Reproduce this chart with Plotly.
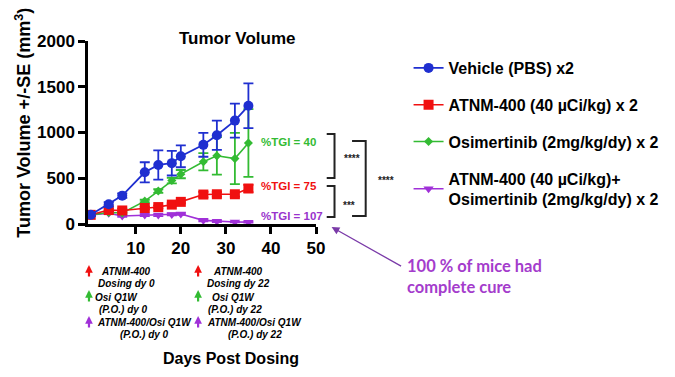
import plotly.graph_objects as go

# ---------------- data ----------------
days = [0, 4, 7, 12, 15, 18, 20, 25, 28, 32, 35]

vehicle = [100, 215, 310, 565, 645, 665, 740, 865, 970, 1130, 1292]
vehicle_se = [15, 25, 25, 110, 160, 135, 120, 130, 160, 185, 245]

atnm = [100, 152, 148, 175, 185, 212, 242, 322, 325, 325, 388]
atnm_se = [10, 15, 20, 15, 15, 15, 15, 30, 25, 25, 40]

osi = [100, 125, 120, 250, 360, 475, 545, 680, 745, 715, 885]
osi_se = [10, 10, 10, 15, 20, 30, 45, 95, 205, 280, 370]

combo = [100, 118, 88, 97, 97, 105, 110, 40, 30, 22, 20]
combo_se = [10, 10, 10, 10, 10, 10, 10, 10, 8, 5, 5]

series_names = [
    "Vehicle (PBS) x2",
    "ATNM-400 (40 µCi/kg) x 2",
    "Osimertinib (2mg/kg/dy) x 2",
    "ATNM-400 (40 µCi/kg)+<br>Osimertinib (2mg/kg/dy) x 2",
]
x_ticks = [10, 20, 30, 40, 50]
y_ticks = [0, 500, 1000, 1500, 2000]

tgi_labels = ["%TGI = 40", "%TGI = 75", "%TGI = 107"]
sig_labels = ["****", "***", "****"]

BLUE = "#1f2fd0"
RED = "#f01010"
GREEN = "#33bb33"
PURPLE = "#a030d8"
FONT = "Arial, Liberation Sans, sans-serif"

# The page body has an 8px margin, so the figure is drawn offset by 8px.
OFF = 8
W, H = 675 - OFF, 377 - OFF
# plot area in reference-image pixels
PL, PR, PT, PB = 88, 322, 41, 224


def px(x):
    return (x - PL) / (PR - PL)


def py(y):
    return (PB - y) / (PB - PT)


fig = go.Figure()

def add_series(y, se, name, color, symbol, size, rank, lw=1.6):
    fig.add_trace(go.Scatter(
        x=days, y=y, name=name, mode="lines+markers",
        line=dict(color=color, width=lw),
        marker=dict(color=color, symbol=symbol, size=size),
        error_y=dict(type="data", array=se, visible=True, color=color,
                     thickness=1.8, width=5),
        legendgroup=str(rank), legendrank=rank,
    ))

# draw order: combo, osi, atnm, vehicle
add_series(combo, combo_se, series_names[3], PURPLE, "triangle-down", 9, 4)
add_series(osi, osi_se, series_names[2], GREEN, "diamond", 7, 3)
add_series(atnm, atnm_se, series_names[1], RED, "square", 10, 2)
add_series(vehicle, vehicle_se, series_names[0], BLUE, "circle", 10, 1, lw=1.8)

ann = []

# title
ann.append(dict(text="Tumor Volume", x=px(241), y=py(39), xref="paper", yref="paper",
                showarrow=False, xanchor="center", yanchor="middle",
                font=dict(size=17, family=FONT, color="black", weight="bold")))
# y title
ann.append(dict(text="Tumor Volume +/-SE (mm<sup>3</sup>)", x=px(21), y=py(123),
                xref="paper", yref="paper", textangle=-90, showarrow=False,
                xanchor="center", yanchor="middle",
                font=dict(size=18, family=FONT, color="black", weight="bold")))
# x title
ann.append(dict(text="Days Post Dosing", x=px(235), y=py(358), xref="paper", yref="paper",
                showarrow=False, xanchor="center", yanchor="middle",
                font=dict(size=16, family=FONT, color="black", weight="bold")))

# TGI labels
for t, c, yy in zip(tgi_labels, [GREEN, RED, "#9933cc"], [142, 186, 216]):
    ann.append(dict(text=t, x=px(264), y=py(yy), xref="paper", yref="paper",
                    showarrow=False, xanchor="left", yanchor="middle",
                    font=dict(size=11.5, family=FONT, color=c, weight="bold")))

# significance stars
for t, xx, yy in zip(sig_labels, [359, 356, 394], [158, 205, 180]):
    ann.append(dict(text=t, x=px(xx), y=py(yy), xref="paper", yref="paper",
                    showarrow=False, xanchor="center", yanchor="middle",
                    font=dict(size=10, family=FONT, color="#222222", weight="bold")))

# bracket shapes
shapes = []
def bracket(x0, x1, y0, y1):
    pts = [(x0, y0), (x1, y0), (x1, y1), (x0, y1)]
    path = "M " + " L ".join(f"{px(a)},{py(b)}" for a, b in pts)
    shapes.append(dict(type="path", path=path, xref="paper", yref="paper",
                       line=dict(color="#222222", width=2)))

bracket(333, 341, 134, 178)
bracket(333, 341, 186, 217)
bracket(359, 373, 141, 216)

# cure note
ann.append(dict(text="100 % of mice had<br>complete cure", x=px(413), y=py(276),
                xref="paper", yref="paper", showarrow=False, xanchor="left",
                yanchor="middle", align="left",
                font=dict(size=16.5, family="Lato, sans-serif", color="#a43ccc",
                          weight="bold")))
ann.append(dict(text="", x=px(338), y=py(227), xref="paper", yref="paper",
                ax=71, ay=40, showarrow=True, arrowhead=2, arrowsize=1.2,
                arrowwidth=1.3, arrowcolor="#7a3aa8"))

# dosing notes
dose_lines = [
    [("ATNM-400", 127, 271), ("Dosing dy 0", 128, 283),
     ("Osi Q1W", 117, 297), ("(P.O.) dy 0", 124, 309),
     ("ATNM-400/Osi Q1W", 146, 322), ("(P.O.) dy 0", 146, 334)],
    [("ATNM-400", 242, 271), ("Dosing dy 22", 242, 283),
     ("Osi Q1W", 237, 297), ("(P.O.) dy 22", 239, 309),
     ("ATNM-400/Osi Q1W", 259, 322), ("(P.O.) dy 22", 259, 334)],
]
for col in dose_lines:
    for t, xx, yy in col:
        ann.append(dict(text=t, x=px(xx), y=py(yy), xref="paper", yref="paper",
                        showarrow=False, xanchor="center", yanchor="middle",
                        font=dict(size=10, family=FONT, color="black",
                                  weight="bold", style="italic")))
for ax_x in [89, 201]:
    for c, yy in zip([RED, GREEN, PURPLE], [265, 290, 316]):
        ann.append(dict(text="", x=px(ax_x), y=py(yy), xref="paper", yref="paper",
                        ax=0, ay=13, showarrow=True, arrowhead=2, arrowsize=0.7,
                        arrowwidth=2.2, arrowcolor=c))

fig.update_layout(
    width=W, height=H,
    margin=dict(l=PL - OFF, r=675 - PR, t=PT - OFF, b=377 - PB, pad=0),
    paper_bgcolor="white", plot_bgcolor="white",
    annotations=ann, shapes=shapes,
    font=dict(family=FONT, color="black"),
    legend=dict(x=px(417), y=py(51), xanchor="left", yanchor="top",
                traceorder="grouped", tracegroupgap=13,
                font=dict(size=16, family=FONT, color="black", weight="bold"),
                bgcolor="rgba(0,0,0,0)"),
    showlegend=True,
)
fig.update_xaxes(range=[-0.6, 50], tickvals=x_ticks, showgrid=False, zeroline=False,
                 showline=True, linecolor="black", linewidth=2.5,
                 ticks="outside", ticklen=7, tickwidth=2.5, tickcolor="black",
                 tickfont=dict(size=17, family=FONT, color="black", weight="bold"))
fig.update_yaxes(range=[0, 2000], tickvals=y_ticks, showgrid=False, zeroline=False,
                 showline=True, linecolor="black", linewidth=2.5,
                 ticks="outside", ticklen=7, tickwidth=2.5, tickcolor="black",
                 tickfont=dict(size=17, family=FONT, color="black", weight="bold"))

fig.write_html("out.html")
